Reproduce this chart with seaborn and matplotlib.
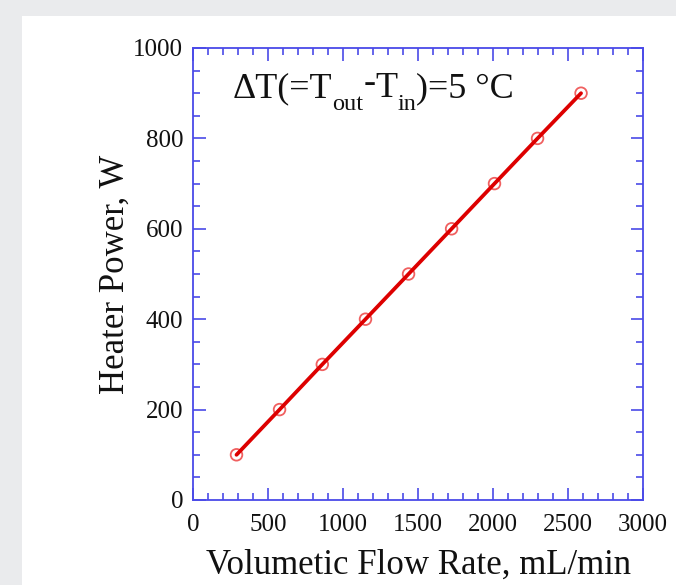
import matplotlib
matplotlib.use("Agg")
import matplotlib.pyplot as plt
import seaborn as sns
import pandas as pd
from matplotlib.patches import Rectangle
from matplotlib.ticker import MultipleLocator

flow_rate = [290, 577, 862, 1150, 1437, 1724, 2010, 2297, 2587]
heater_power = [100, 200, 300, 400, 500, 600, 700, 800, 900]
x_ticks = [0, 500, 1000, 1500, 2000, 2500, 3000]
y_ticks = [0, 200, 400, 600, 800, 1000]

df = pd.DataFrame({"flow": flow_rate, "power": heater_power})

sns.set_theme(style="white")
plt.rcParams["font.family"] = ["Liberation Serif", "DejaVu Serif"]
plt.rcParams["mathtext.fontset"] = "stix"

W, H = 676, 585
fig = plt.figure(figsize=(W / 100, H / 100), dpi=100, facecolor="#eaebed")
fig.patches.append(Rectangle((22 / W, 0), 1, 1 - 16 / H, transform=fig.transFigure,
                             facecolor="white", edgecolor="none", zorder=-10))

ax = fig.add_axes([193 / W, 1 - 500 / H, 450 / W, 452 / H])
ax.set_zorder(5)
ax.set_facecolor("white")

sns.scatterplot(data=df, x="flow", y="power", ax=ax, s=70, marker="o",
                facecolor="none", edgecolor="#f06060", linewidth=1.3, zorder=3)
sns.lineplot(data=df, x="flow", y="power", ax=ax, color="#dd0000", linewidth=2.7,
             zorder=4)

ax.set_xlim(0, 3000)
ax.set_ylim(0, 1000)
ax.set_xticks(x_ticks)
ax.set_yticks(y_ticks)
ax.xaxis.set_minor_locator(MultipleLocator(100))
ax.yaxis.set_minor_locator(MultipleLocator(50))

blue = "#4a4ae8"
for sp in ax.spines.values():
    sp.set_color(blue)
    sp.set_linewidth(1.3)
ax.tick_params(which="both", direction="in", top=True, right=True, bottom=True, left=True,
               color=blue, width=1.2, labelsize=18, labelcolor="#111111")
ax.tick_params(which="major", length=9)
ax.tick_params(which="minor", length=5)
ax.tick_params(axis="x", which="major", pad=10)
ax.tick_params(axis="y", which="major", pad=7)

ax.set_xlabel("Volumetic Flow Rate, mL/min", fontsize=25, color="#111111", labelpad=9)
ax.set_ylabel("Heater Power, W", fontsize=25, color="#111111", labelpad=1)

# annotation built from pieces: (text, fontsize, baseline offset in px)
pieces = [("\u0394T(=T", 26, 0), ("out", 17.5, -13), ("-", 26, 5), ("T", 26, 0),
          ("in", 17.5, -13), (")=5 \u00b0C", 26, 0)]
fig.canvas.draw()
renderer = fig.canvas.get_renderer()
x0_px, base_px = 233, H - 97
inv = ax.transAxes.inverted()
for txt, size, dy in pieces:
    xa, ya = inv.transform((x0_px, base_px + dy))
    t = ax.text(xa, ya, txt, transform=ax.transAxes, fontsize=size, color="#111111",
                va="baseline", ha="left")
    bb = t.get_window_extent(renderer=renderer)
    x0_px = bb.x1

fig.savefig("out.png", dpi=100, facecolor=fig.get_facecolor())
